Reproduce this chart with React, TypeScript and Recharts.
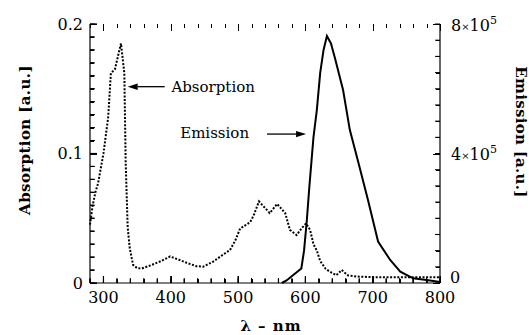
import React from "react";
import { LineChart, Line, XAxis, YAxis, ReferenceDot, ReferenceLine } from "recharts";

// Absorption spectrum: [wavelength nm, absorbance a.u.]
const absorptionPoints: [number, number][] = [
  [280, 0.045], [284, 0.06], [288, 0.07], [292, 0.077], [300, 0.1], [307, 0.128],
  [311, 0.162], [317, 0.165], [326, 0.185], [331, 0.162], [333, 0.093], [336, 0.043],
  [339, 0.027], [344, 0.014], [350, 0.0115], [357, 0.0112], [372, 0.014], [386, 0.017],
  [399, 0.0205], [412, 0.018], [424, 0.0155], [438, 0.013], [448, 0.0126], [463, 0.0165],
  [478, 0.022], [488, 0.0255], [496, 0.033], [503, 0.042], [518, 0.047], [523, 0.052],
  [531, 0.063], [547, 0.054], [558, 0.061], [570, 0.054], [577, 0.041], [587, 0.037],
  [594, 0.042], [601, 0.046], [607, 0.041], [612, 0.03], [617, 0.025], [622, 0.017],
  [630, 0.011], [637, 0.0085], [646, 0.006], [654, 0.01], [663, 0.006], [676, 0.005],
  [700, 0.0045], [730, 0.0045], [760, 0.0045], [800, 0.0045],
];

// Emission spectrum: [wavelength nm, intensity a.u.]
const emissionPoints: [number, number][] = [
  [565, 0], [572, 8000], [582, 25000], [594, 45000], [598, 100000], [602, 190000],
  [606, 300000], [612, 450000], [617, 534000], [622, 649000], [627, 720000], [632, 763000],
  [638, 740000], [644, 694000], [656, 596000], [666, 473000], [679, 370000], [693, 256000],
  [708, 128000], [726, 71000], [741, 35000], [760, 14500], [780, 9000], [800, 3000],
];

const xMajor = [300, 400, 500, 600, 700, 800];
const xTicks = [280, 300, 320, 340, 360, 380, 400, 420, 440, 460, 480, 500, 520, 540, 560, 580, 600, 620, 640, 660, 680, 700, 720, 740, 760, 780, 800];
const leftMajor = [0, 0.1, 0.2];
const leftTicks = [0, 0.01, 0.02, 0.03, 0.04, 0.05, 0.06, 0.07, 0.08, 0.09, 0.1, 0.11, 0.12, 0.13, 0.14, 0.15, 0.16, 0.17, 0.18, 0.19, 0.2];
const rightMajor = [0, 400000, 800000];
const rightTicks = [0, 50000, 100000, 150000, 200000, 250000, 300000, 350000, 400000, 450000, 500000, 550000, 600000, 650000, 700000, 750000, 800000];

const X_MIN = 280;
const X_MAX = 800;
const A_MAX = 0.2;
const E_MAX = 800000;
const TICK = 5;

// layout
const CHART_W = 529;
const CHART_H = 335;
const TOP = 24;
const LEFT_W = 90;
const RIGHT_W = 89;
const BOTTOM_H = 52;
const PLOT_L = LEFT_W;
const PLOT_R = CHART_W - RIGHT_W;
const PLOT_T = TOP;
const PLOT_B = CHART_H - BOTTOM_H;
const PLOT_W = PLOT_R - PLOT_L;
const PLOT_H = PLOT_B - PLOT_T;

const xLen = (px: number) => ((X_MAX - X_MIN) * px) / PLOT_W;
const aLen = (px: number) => (A_MAX * px) / PLOT_H;
// linear maps of the axis domains onto the plot rectangle (for the tick overlay)
const sx = (v: number) => PLOT_L + ((v - X_MIN) / (X_MAX - X_MIN)) * PLOT_W;
const sa = (v: number) => PLOT_B - (v / A_MAX) * PLOT_H;
const se = (v: number) => PLOT_B - (v / E_MAX) * PLOT_H;
const crisp = (v: number) => Math.round(v) + 0.5;

const absorption = absorptionPoints.map(([x, a]) => ({ x, a }));
const emission = emissionPoints.map(([x, e]) => ({ x, e }));

const FONT = "'DejaVu Serif', 'Liberation Serif', serif";

const near = (arr: number[], v: number) => arr.some((m) => Math.abs(m - v) < 1e-9);

const BottomLabel = (p: any) => {
  const { x, y, payload } = p;
  if (!near(xMajor, payload.value)) return <g />;
  return (
    <text x={x} y={y + TICK + 20} textAnchor="middle" fontFamily={FONT} fontSize={16} fill="#000">
      {payload.value}
    </text>
  );
};

const NoLabel = () => <g />;

const LeftLabel = (p: any) => {
  const { x, y, payload } = p;
  if (!near(leftMajor, payload.value)) return <g />;
  return (
    <text x={x - TICK - 7} y={y} dy="0.35em" textAnchor="end" fontFamily={FONT} fontSize={16} fill="#000">
      {payload.value === 0 ? "0" : String(payload.value)}
    </text>
  );
};

const RightLabel = (p: any) => {
  const { x, y, payload } = p;
  const v = payload.value;
  if (!near(rightMajor, v)) return <g />;
  const bx = x + TICK;
  if (v === 0) {
    return (
      <text x={bx + 10} y={y - 6} dy="0.35em" fontFamily={FONT} fontSize={16} fill="#000">0</text>
    );
  }
  return (
    <text x={bx + 11} y={y + 1} dy="0.35em" fontFamily={FONT} fontSize={16} fill="#000">
      {String(v / 100000)}
      <tspan fontSize={10} dy="-1">×</tspan>
      <tspan dy="1">10</tspan>
      <tspan fontSize={11} dy="-7">5</tspan>
    </text>
  );
};

const TickSeg = (p: any) => (
  <line x1={p.x1} y1={p.y1} x2={p.x2} y2={p.y2} stroke="#000" strokeWidth={1.2} />
);

const Arrow = (p: any) => {
  const { x1, y1, x2, y2 } = p;
  const dx = x2 - x1;
  const dy = y2 - y1;
  const len = Math.sqrt(dx * dx + dy * dy) || 1;
  const ux = dx / len;
  const uy = dy / len;
  const hl = 10;
  const hw = 3.2;
  const bx = x2 - ux * hl;
  const by = y2 - uy * hl;
  return (
    <g>
      <line x1={x1} y1={y1} x2={bx} y2={by} stroke="#000" strokeWidth={1.3} />
      <polygon
        points={`${x2},${y2} ${bx - uy * hw},${by + ux * hw} ${bx + uy * hw},${by - ux * hw}`}
        fill="#000"
      />
    </g>
  );
};

const noteText = (label: string) => (p: any) => (
  <text x={p.cx} y={p.cy} dy="0.35em" fontFamily={FONT} fontSize={15} fill="#000">
    {label}
  </text>
);

const tickLineStyle = { stroke: "#000", strokeWidth: 1 };
const axisLineStyle = { stroke: "#000", strokeWidth: 1.2 };

const TickOverlay = () => {
  const lines: React.ReactNode[] = [];
  xTicks.forEach((v) => {
    const l = near(xMajor, v) ? 7 : 4;
    const x = crisp(sx(v));
    lines.push(<line key={`ob${v}`} x1={x} y1={PLOT_B} x2={x} y2={PLOT_B - l} />);
    lines.push(<line key={`ot${v}`} x1={x} y1={PLOT_T} x2={x} y2={PLOT_T + l} />);
  });
  leftTicks.forEach((v) => {
    const l = near(leftMajor, v) ? 7 : 4;
    const y = crisp(sa(v));
    lines.push(<line key={`ol${v}`} x1={PLOT_L} y1={y} x2={PLOT_L + l} y2={y} />);
  });
  rightTicks.forEach((v) => {
    const l = near(rightMajor, v) ? 7 : 4;
    const y = crisp(se(v));
    lines.push(<line key={`or${v}`} x1={PLOT_R} y1={y} x2={PLOT_R - l} y2={y} />);
  });
  return (
    <svg
      width={CHART_W}
      height={CHART_H}
      style={{ position: "absolute", left: 0, top: 0, pointerEvents: "none" }}
    >
      <g stroke="#000" strokeWidth={1} shapeRendering="crispEdges">
        {lines}
      </g>
    </svg>
  );
};

export default function App() {
  return (
    <div style={{ position: "relative", width: CHART_W, height: CHART_H, background: "#fff" }}>
      <style>{`body{margin:0;overflow:hidden;background:#fff}`}</style>
      <LineChart width={CHART_W} height={CHART_H} margin={{ top: TOP, right: 0, bottom: 0, left: 0 }}>
        <XAxis
          xAxisId="b"
          type="number"
          dataKey="x"
          domain={[X_MIN, X_MAX]}
          ticks={xTicks}
          interval={0}
          height={BOTTOM_H}
          tickSize={-TICK}
          tickMargin={0}
          tickLine={tickLineStyle}
          tick={<BottomLabel />}
          axisLine={axisLineStyle}
          label={{
            content: (lp: any) => {
              const vb = lp.viewBox;
              return (
                <text
                  x={vb.x + vb.width / 2 + 6}
                  y={vb.y + 48}
                  textAnchor="middle"
                  fontFamily={FONT}
                  fontWeight="bold"
                  fontSize={15}
                  letterSpacing={1}
                  fill="#000"
                >
                  λ – nm
                </text>
              );
            },
          }}
        />
        <XAxis
          xAxisId="t"
          orientation="top"
          type="number"
          dataKey="x"
          domain={[X_MIN, X_MAX]}
          ticks={xTicks}
          interval={0}
          height={0}
          tickSize={-TICK}
          tickMargin={0}
          tickLine={tickLineStyle}
          tick={<NoLabel />}
          axisLine={axisLineStyle}
        />
        <YAxis
          yAxisId="left"
          domain={[0, A_MAX]}
          ticks={leftTicks}
          interval={0}
          width={LEFT_W}
          tickSize={-TICK}
          tickMargin={0}
          tickLine={tickLineStyle}
          tick={<LeftLabel />}
          axisLine={axisLineStyle}
          label={{
            content: (lp: any) => {
              const vb = lp.viewBox;
              const cx = vb.x + 25;
              const cy = 140;
              return (
                <text
                  x={cx}
                  y={cy}
                  dy="0.35em"
                  transform={`rotate(-90 ${cx} ${cy})`}
                  textAnchor="middle"
                  fontFamily={FONT}
                  fontWeight="bold"
                  fontSize={15}
                  letterSpacing={0.4}
                  fill="#000"
                >
                  Absorption [a.u.]
                </text>
              );
            },
          }}
        />
        <YAxis
          yAxisId="right"
          orientation="right"
          domain={[0, E_MAX]}
          ticks={rightTicks}
          interval={0}
          width={RIGHT_W}
          tickSize={-TICK}
          tickMargin={0}
          tickLine={tickLineStyle}
          tick={<RightLabel />}
          axisLine={axisLineStyle}
          label={{
            content: (lp: any) => {
              const vb = lp.viewBox;
              const cx = vb.x + 81;
              const cy = 132;
              return (
                <text
                  x={cx}
                  y={cy}
                  dy="0.35em"
                  transform={`rotate(90 ${cx} ${cy})`}
                  textAnchor="middle"
                  fontFamily={FONT}
                  fontWeight="bold"
                  fontSize={15}
                  letterSpacing={0.3}
                  fill="#000"
                >
                  Emission [a.u.]
                </text>
              );
            },
          }}
        />

        <Line
          xAxisId="b"
          yAxisId="left"
          data={absorption}
          dataKey="a"
          type="linear"
          stroke="#000"
          strokeWidth={2}
          strokeDasharray="2 1.6"
          dot={false}
          activeDot={false}
          isAnimationActive={false}
        />
        <Line
          xAxisId="b"
          yAxisId="right"
          data={emission}
          dataKey="e"
          type="linear"
          stroke="#000"
          strokeWidth={2}
          dot={false}
          activeDot={false}
          isAnimationActive={false}
        />

        {xTicks.map((v) => {
          const l = aLen(near(xMajor, v) ? 7 : 4);
          return (
            <ReferenceLine
              key={`tb${v}`}
              xAxisId="b"
              yAxisId="left"
              segment={[{ x: v, y: 0 }, { x: v, y: l }]}
              shape={<TickSeg />}
            />
          );
        })}
        {leftTicks.map((v) => {
          const l = xLen(near(leftMajor, v) ? 7 : 4);
          return (
            <ReferenceLine
              key={`tl${v}`}
              xAxisId="b"
              yAxisId="left"
              segment={[{ x: X_MIN, y: v }, { x: X_MIN + l, y: v }]}
              shape={<TickSeg />}
            />
          );
        })}

        <ReferenceLine
          xAxisId="b"
          yAxisId="left"
          segment={[{ x: 391, y: 0.1516 }, { x: 336, y: 0.1516 }]}
          shape={<Arrow />}
        />
        <ReferenceLine
          xAxisId="b"
          yAxisId="left"
          segment={[{ x: 543, y: 0.115 }, { x: 601, y: 0.115 }]}
          shape={<Arrow />}
        />
        <ReferenceDot xAxisId="b" yAxisId="left" x={401} y={0.1516} r={0} shape={noteText("Absorption")} />
        <ReferenceDot xAxisId="b" yAxisId="left" x={414} y={0.1158} r={0} shape={noteText("Emission")} />
      </LineChart>
      <TickOverlay />
    </div>
  );
}
